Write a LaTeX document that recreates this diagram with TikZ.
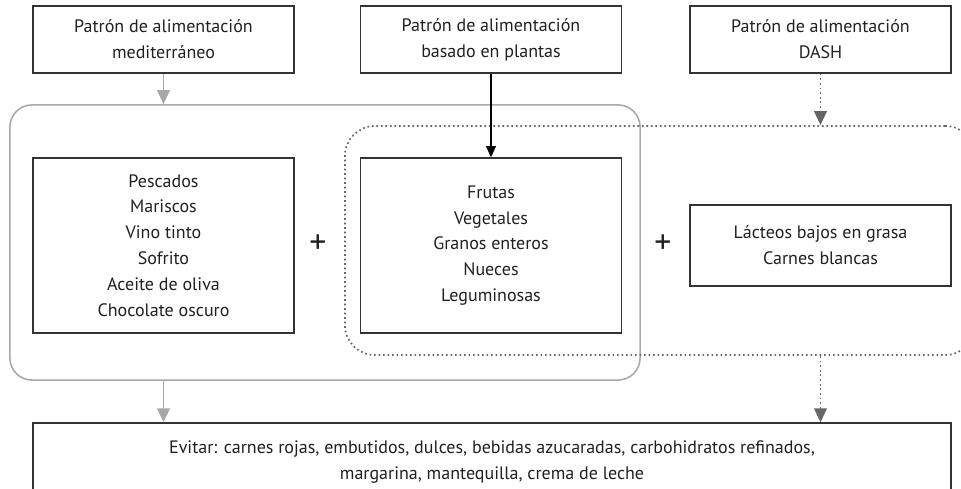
\documentclass[tikz,border=0pt]{standalone}
\usepackage{fontspec}
\setmainfont{PT Sans}
\usetikzlibrary{arrows.meta}
\definecolor{txt}{HTML}{231F20}
\definecolor{frame}{HTML}{333333}
\definecolor{light}{HTML}{A8A8A8}
\definecolor{dots}{HTML}{666666}
\tikzset{
  box/.style={draw=frame, line width=0.9pt, minimum width=6.525cm, align=center, inner sep=0pt, text=txt, font=\fontsize{12.8}{18.4}\selectfont},
  plus/.style={text=txt, font=\fontsize{24}{24}\selectfont},
  grayarrow/.style={light, line width=1.4pt, -{Triangle[length=10pt, width=9pt]}},
  dotarrow/.style={dots, line width=1.3pt, dotted, -{Triangle[length=10pt, width=9pt]}},
}
\begin{document}
\begin{tikzpicture}[x=0.025cm, y=-0.025cm]
        \useasboundingbox (0,0) rectangle (961,488);
        \clip (0,0) rectangle (961,488);

        % grupos
        \node[draw=light, line width=1.1pt, rounded corners=0.55cm, minimum width=15.75cm, minimum height=6.875cm] (medgroup) at (325,242.5) {};
        \node[draw=dots, line width=1.2pt, dotted, rounded corners=0.75cm, minimum width=15.75cm, minimum height=5.725cm] (dashgroup) at (660,240.5) {};

        % patrones
        \node[box, minimum height=1.675cm] (med) at (163.5,39.5) {Patrón de alimentación\\mediterráneo};
        \node[box, minimum height=1.675cm] (plant) at (491,39.5) {Patrón de alimentación\\basado en plantas};
        \node[box, minimum height=1.675cm] (dash) at (820.5,39.5) {Patrón de alimentación\\DASH};

        % alimentos
        \node[box, minimum height=4.375cm] (medfood) at (163.5,245.5) {Pescados\\Mariscos\\Vino tinto\\Sofrito\\Aceite de oliva\\Chocolate oscuro};
        \node[box, minimum height=4.375cm] (plantfood) at (491,245.5) {Frutas\\Vegetales\\Granos enteros\\Nueces\\Leguminosas};
        \node[box, minimum height=2.025cm] (dashfood) at (820.5,245.5) {Lácteos bajos en grasa\\Carnes blancas};
        \node[plus] (plusa) at (318,244) {+};
        \node[plus] (plusb) at (663,244) {+};

        \node[box, minimum width=22.95cm, minimum height=1.85cm, text depth=0pt] (avoid) at (492,460) {Evitar: carnes rojas, embutidos, dulces, bebidas azucaradas, carbohidratos refinados,\\margarina, mantequilla, crema de leche};

        % flechas
        \draw[grayarrow] (med.south) -- (med.south |- medgroup.north);
        \draw[black, line width=0.8pt, -{Triangle[length=8pt, width=7pt]}] (plant.south) -- (plantfood.north);
        \draw[dotarrow] (dash.south) -- (dash.south |- dashgroup.north);
        \draw[grayarrow] (med.south |- medgroup.south) -- (med.south |- avoid.north);
        \draw[dotarrow] (dash.south |- dashgroup.south) -- (dash.south |- avoid.north);
    \end{tikzpicture}
\end{document}
